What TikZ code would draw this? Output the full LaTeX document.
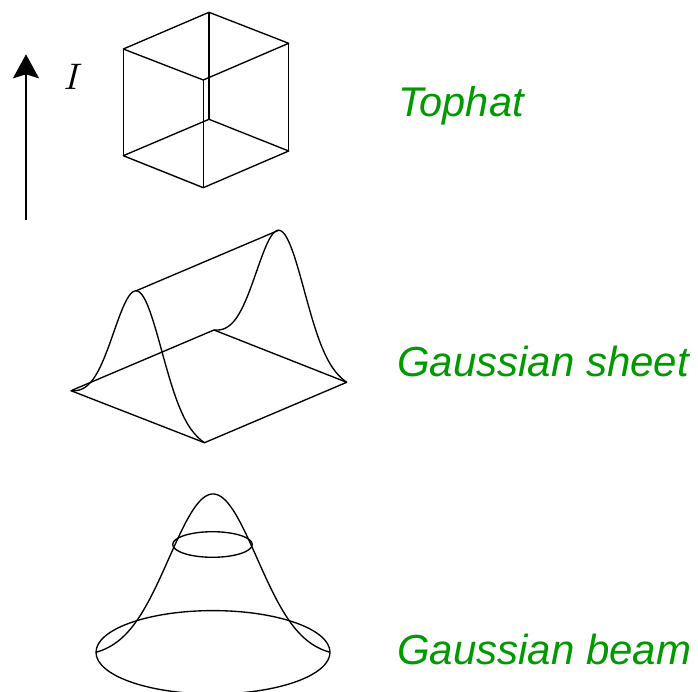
\documentclass[tikz,border=0pt]{standalone}
\usepackage{fontspec}
\newfontfamily\labfont{Liberation Sans}
\newfontfamily\ifont{lmroman10-italic}[Extension=.otf]
\usetikzlibrary{arrows.meta}
\definecolor{labgreen}{RGB}{0,153,0}
\tikzset{
  wire/.style={line width=1.35pt, line join=round},
  lab/.style={anchor=base west, inner sep=0pt, text=labgreen},
}
\begin{document}
\begin{tikzpicture}[x=1pt,y=-1pt]
\useasboundingbox (0,0) rectangle (698,692);
% ---------- intensity axis ----------
\coordinate (a0) at (26,220);
\coordinate (a1) at (26,54.3);
\draw[line width=2pt, -{Stealth[length=24pt,width=26pt,inset=4pt]}] (a0) -- (a1);
\node[inner sep=0pt] (lI) at (71,77) {\ifont\fontsize{37}{40}\selectfont I};
% ---------- tophat cube ----------
\coordinate (tb) at (209,12.3);
\coordinate (tl) at (123.3,49);
\coordinate (tf) at (203.3,80);
\coordinate (tr) at (288.7,43.3);
\coordinate (bb) at (209,119.3);
\coordinate (bl) at (123.3,155.7);
\coordinate (bf) at (203.3,187.7);
\coordinate (br) at (288.7,151);
\draw[wire] (tb) -- (tl) -- (tf) -- (tr) -- cycle;
\draw[wire] (bb) -- (bl) -- (bf) -- (br) -- cycle;
\draw[wire] (tb) -- (bb);
\draw[wire] (tl) -- (bl);
\draw[wire] (tf) -- (bf);
\draw[wire] (tr) -- (br);
\node[lab, font=\labfont\itshape\fontsize{41.5}{46}\selectfont] (t1) at (398,116.7) {Tophat};
% ---------- gaussian sheet ----------
\coordinate (sL) at (71,390.7);
\coordinate (sF) at (204.5,442.7);
\coordinate (sR) at (346.7,382.3);
\coordinate (sB) at (214,330);
\coordinate (pF) at (135.9,290.9);
\coordinate (pB) at (278.6,230.3);
\draw[wire] (sL) -- (sF) -- (sR) -- (sB) -- cycle;
\draw[wire] plot[domain=0:1, samples=150, smooth]
  ({71+133.5*\x}, {390.7+52*\x-125.5*(exp(-((\x-0.5)^2)/0.0648)-0.021)/0.979});
\draw[wire] plot[domain=0:1, samples=150, smooth]
  ({214+132.7*\x}, {330+52.3*\x-125.5*(exp(-((\x-0.5)^2)/0.0648)-0.021)/0.979});
\draw[wire] (pF) -- (pB);
\node[lab, font=\labfont\itshape\fontsize{42}{46}\selectfont] (t2) at (397,376) {Gaussian sheet};
% ---------- gaussian beam ----------
\coordinate (bc) at (213,652.3);
\coordinate (sc) at (212.5,544.5);
\draw[wire] (bc) ellipse [x radius=117, y radius=41.7];
\draw[wire] (sc) ellipse [x radius=39.8, y radius=12.8];
\draw[wire] plot[domain=-1:1, samples=150, smooth]
  ({213+117*\x}, {652.3-158.3*(exp(-3.535*\x*\x)-0.0291)/0.9709});
\node[lab, font=\labfont\itshape\fontsize{42}{46}\selectfont] (t3) at (397,664.3) {Gaussian beam};
\end{tikzpicture}
\end{document}
